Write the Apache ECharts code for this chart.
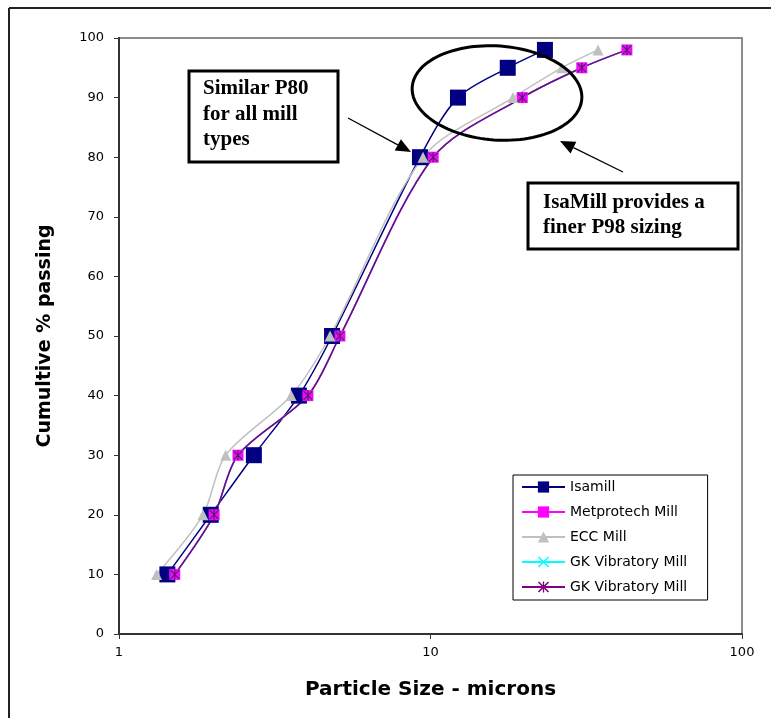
<!DOCTYPE html>
<html>
<head>
<meta charset="utf-8">
<script src="https://cdn.jsdelivr.net/npm/echarts@6/dist/echarts.min.js"></script>
<style>
html,body{margin:0;padding:0;background:#fff;}
#chart{width:771px;height:718px;}
</style>
</head>
<body>
<div id="chart"></div>
<script>
// ---- data ----
const percentPassing = [10, 20, 30, 40, 50, 80, 90, 95, 98];
const isamillSize    = [1.43, 1.97, 2.71, 3.78, 4.83, 9.25, 12.25, 17.7, 23.3];
const metprotechSize = [1.51, 2.02, 2.41, 4.04, 5.12, 10.2, 19.7, 30.6, 42.7];
const eccSize        = [1.32, 1.86, 2.20, 3.57, 4.76, 9.46, 18.4, 26.4, 34.5];
const gkCyanSize     = [1.51, 2.02, 2.41, 4.04, 5.12, 10.2, 19.7, 30.6, 42.7];
const gkPurpleSize   = [1.51, 2.02, 2.41, 4.04, 5.12, 10.2, 19.7, 30.6, 42.7];
const seriesNames = ['Isamill', 'Metprotech Mill', 'ECC Mill', 'GK Vibratory Mill', 'GK Vibratory Mill '];
const xTickValues = [1, 10, 100];
const yTickStep = 10;
const annotation1 = ['Similar P80', 'for all mill', 'types'];
const annotation2 = ['IsaMill provides a', 'finer P98 sizing'];

function pairs(xs, ys) { return xs.map((x, i) => [x, ys[i]]); }

const xShape = 'path://M1,0L5,4L9,0L10,1L6,5L10,9L9,10L5,6L1,10L0,9L4,5L0,1Z';
const starShape = 'path://M1,0L5,4L9,0L10,1L6,5L10,9L9,10L5,6L1,10L0,9L4,5L0,1ZM4.4,0L5.6,0L5.6,10L4.4,10Z';

function arrow(x1, y1, x2, y2) {
  const dx = x2 - x1, dy = y2 - y1, L = Math.sqrt(dx*dx + dy*dy);
  const ux = dx / L, uy = dy / L, hl = 15, hw = 6.5;
  const bx = x2 - ux*hl, by = y2 - uy*hl;
  return [
    { type: 'line', z: 50, shape: { x1: x1, y1: y1, x2: bx, y2: by }, style: { stroke: '#000', lineWidth: 1.3 } },
    { type: 'polygon', z: 50, shape: { points: [[x2, y2], [bx - uy*hw, by + ux*hw], [bx + uy*hw, by - ux*hw]] }, style: { fill: '#000' } }
  ];
}

function ellipsePts(cx, cy, rx, ry, rotDeg) {
  const pts = [], r = rotDeg * Math.PI / 180;
  for (let i = 0; i < 120; i++) {
    const t = i / 120 * Math.PI * 2;
    const ex = rx * Math.cos(t), ey = ry * Math.sin(t);
    pts.push([cx + ex*Math.cos(r) - ey*Math.sin(r), cy + ex*Math.sin(r) + ey*Math.cos(r)]);
  }
  return pts;
}

const chart = echarts.init(document.getElementById('chart'), null, { renderer: 'canvas' });

const tickFont = { fontFamily: 'DejaVu Sans', fontSize: 13, color: '#000' };

const option = {
  backgroundColor: '#fff',
  animation: false,
  grid: {
    left: 119, top: 38, right: 29, bottom: 84,
    show: true, borderColor: '#8c8c8c', borderWidth: 2,
    containLabel: false, outerBoundsMode: 'none'
  },
  xAxis: {
    type: 'log', logBase: 10, min: xTickValues[0], max: xTickValues[xTickValues.length - 1],
    name: 'Particle Size - microns', nameLocation: 'middle', nameGap: 46,
    nameTextStyle: { fontFamily: 'DejaVu Sans', fontWeight: 'bold', fontSize: 20, color: '#000' },
    axisLine: { show: true, lineStyle: { color: '#333', width: 2 } },
    axisTick: { show: true, inside: false, length: 5, lineStyle: { color: '#333', width: 1 } },
    minorTick: { show: false },
    splitLine: { show: false },
    axisLabel: Object.assign({ margin: 12 }, tickFont)
  },
  yAxis: {
    type: 'value', min: 0, max: 100, interval: yTickStep,
    name: 'Cumultive % passing', nameLocation: 'middle', nameGap: 64,
    nameTextStyle: { fontFamily: 'DejaVu Sans', fontWeight: 'bold', fontSize: 19, color: '#000' },
    axisLine: { show: true, lineStyle: { color: '#333', width: 2 } },
    axisTick: { show: true, inside: false, length: 5, lineStyle: { color: '#333', width: 1 } },
    splitLine: { show: false },
    axisLabel: Object.assign({ margin: 15 }, tickFont)
  },
  legend: {
    orient: 'vertical', left: 513, top: 475,
    padding: [5, 16, 6, 8],
    itemWidth: 43, itemHeight: 14, itemGap: 11,
    borderColor: '#000', borderWidth: 1, backgroundColor: '#fff',
    textStyle: { fontFamily: 'DejaVu Sans', fontSize: 14, color: '#000', padding: [0, 0, 0, 0] },
    data: seriesNames
  },
  series: [
    {
      name: seriesNames[0], type: 'line', smooth: 0.3,
      data: pairs(isamillSize, percentPassing),
      symbol: 'rect', symbolSize: 16,
      itemStyle: { color: '#000080' },
      lineStyle: { color: '#000080', width: 1.5 }
    },
    {
      name: seriesNames[1], type: 'line', smooth: 0.3,
      data: pairs(metprotechSize, percentPassing),
      symbol: 'rect', symbolSize: 11,
      itemStyle: { color: '#ff00ff' },
      lineStyle: { color: '#ff00ff', width: 1.5 }
    },
    {
      name: seriesNames[2], type: 'line', smooth: 0.3,
      data: pairs(eccSize, percentPassing),
      symbol: 'triangle', symbolSize: 11,
      itemStyle: { color: '#c0c0c0' },
      lineStyle: { color: '#c0c0c0', width: 1.5 }
    },
    {
      name: seriesNames[3], type: 'line', smooth: 0.3,
      data: pairs(gkCyanSize, percentPassing),
      symbol: xShape, symbolSize: 10,
      itemStyle: { color: '#00ffff' },
      lineStyle: { color: '#00ffff', width: 1.5 }
    },
    {
      name: seriesNames[4], type: 'line', smooth: 0.3,
      data: pairs(gkPurpleSize, percentPassing),
      symbol: starShape, symbolSize: 10,
      itemStyle: { color: '#800080' },
      lineStyle: { color: '#800080', width: 1.5 }
    }
  ],
  graphic: [
    // outer frame (top and left edges)
    { type: 'line', z: 1, shape: { x1: 9, y1: 8, x2: 771, y2: 8 }, style: { stroke: '#222', lineWidth: 2 } },
    { type: 'line', z: 1, shape: { x1: 9, y1: 8, x2: 9, y2: 718 }, style: { stroke: '#222', lineWidth: 2 } },
    // annotation box 1
    { type: 'rect', z: 50, shape: { x: 189, y: 71, width: 149, height: 91 }, style: { fill: '#fff', stroke: '#000', lineWidth: 3 } },
    { type: 'text', z: 51, x: 203, y: 76, style: { text: annotation1.join('\n'), font: 'bold 21px "Liberation Serif"', fill: '#000', lineHeight: 25.5, verticalAlign: 'top' } },
    // annotation box 2
    { type: 'rect', z: 50, shape: { x: 528, y: 183, width: 210, height: 66 }, style: { fill: '#fff', stroke: '#000', lineWidth: 3 } },
    { type: 'text', z: 51, x: 543, y: 190, style: { text: annotation2.join('\n'), font: 'bold 21px "Liberation Serif"', fill: '#000', lineHeight: 25, verticalAlign: 'top' } },
    // ellipse
    { type: 'polygon', z: 50, shape: { points: ellipsePts(497, 93, 85, 47, 4) }, style: { fill: 'none', stroke: '#000', lineWidth: 3 } }
  ].concat(arrow(348, 118, 411, 152)).concat(arrow(623, 172, 560, 141))
};

chart.setOption(option);
</script>
</body>
</html>
